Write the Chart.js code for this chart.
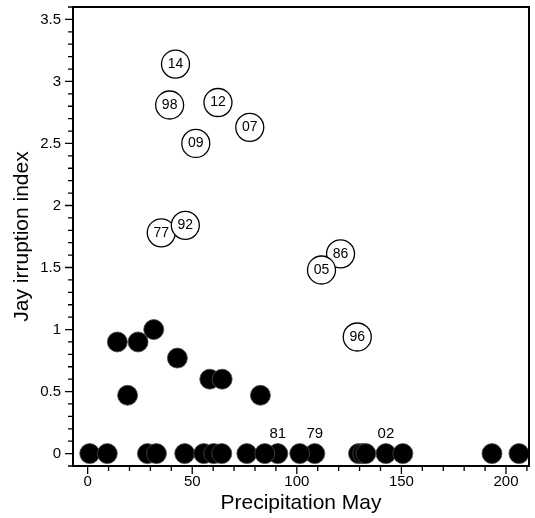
<!DOCTYPE html>
<html>
<head>
<meta charset="utf-8">
<script src="https://cdn.jsdelivr.net/npm/chart.js@4.4.1/dist/chart.umd.min.js"></script>
<style>
    html, body { margin: 0; padding: 0; background: #fff; }
    #wrap { width: 535px; height: 518px; }
</style>
</head>
<body>
<div id="wrap"><canvas id="chart" width="535" height="518"></canvas></div>
<script>
// Irruption years (open circles, labelled with the year)
const yearLabels = ['14', '98', '12', '07', '09', '77', '92', '86', '05', '96'];
const yearPrecip = [42, 39.2, 62.3, 77.5, 51.7, 35.2, 46.7, 120.9, 111.8, 128.9];
const yearIndex = [3.14, 2.81, 2.83, 2.63, 2.5, 1.78, 1.84, 1.61, 1.48, 0.94];

// Other years (filled circles)
const otherPrecip = [14.2, 19.1, 24.1, 31.6, 42.9, 58.4, 64.3, 82.6,
    1, 9.4, 28.6, 32.9, 46.4, 55.5, 60.3, 64.1, 76.1, 84.7, 101.4,
    129.5, 131.5, 133, 150.7, 193.3, 206.2];
const otherIndex = [0.9, 0.47, 0.9, 1.0, 0.77, 0.6, 0.6, 0.47,
    0, 0, 0, 0, 0, 0, 0, 0, 0, 0, 0,
    0, 0, 0, 0, 0, 0];

// Zero years that carry a year label above the point
const taggedLabels = ['81', '79', '02'];
const taggedPrecip = [90.9, 108.6, 142.6];
const taggedIndex = [0, 0, 0];

// Axis ranges and ticks
const xMin = -7, xMax = 211, xStep = 10, xMajor = 50;
const yMin = -0.1, yMax = 3.6, yStep = 0.1, yMajor = 0.5;

const FONT = "'Liberation Sans', Arial, Helvetica, sans-serif";

const toPoints = (xs, ys) => xs.map((x, i) => ({ x: x, y: ys[i] }));
const isMajor = (v, m) => Math.abs(v / m - Math.round(v / m)) < 1e-6;

// year labels: inside the open circles, above the tagged zero points
const yearText = {
    id: 'yearText',
    afterDatasetsDraw(chart) {
        const ctx = chart.ctx;
        ctx.save();
        ctx.fillStyle = '#000';
        ctx.textAlign = 'center';
        ctx.textBaseline = 'middle';
        chart.data.datasets.forEach((ds, i) => {
            if (!ds.yearLabels) {
                return;
            }
            ctx.font = ds.labelSize + 'px ' + FONT;
            chart.getDatasetMeta(i).data.forEach((el, j) => {
                ctx.fillText(ds.yearLabels[j], el.x, el.y + ds.labelOffset);
            });
        });
        ctx.restore();
    }
};

// box frame and outward tick marks (longer on the labelled ones)
const frame = {
    id: 'frame',
    afterDatasetsDraw(chart) {
        const { ctx, chartArea: a, scales: { x, y } } = chart;
        ctx.save();
        ctx.strokeStyle = '#000';
        ctx.lineWidth = 1.3;
        ctx.beginPath();
        x.ticks.forEach((t) => {
            const px = x.getPixelForValue(t.value);
            ctx.moveTo(px, a.bottom);
            ctx.lineTo(px, a.bottom + (isMajor(t.value, xMajor) ? 8 : 5));
        });
        y.ticks.forEach((t) => {
            const py = y.getPixelForValue(t.value);
            ctx.moveTo(a.left, py);
            ctx.lineTo(a.left - (isMajor(t.value, yMajor) ? 8 : 5), py);
        });
        ctx.stroke();
        ctx.lineWidth = 2;
        ctx.strokeRect(a.left, a.top, a.right - a.left, a.bottom - a.top);
        ctx.restore();
    }
};

new Chart(document.getElementById('chart'), {
    type: 'scatter',
    data: {
        datasets: [
            {
                data: toPoints(otherPrecip, otherIndex),
                pointRadius: 10,
                backgroundColor: '#000',
                borderColor: '#4a4a4a',
                borderWidth: 0.8
            },
            {
                data: toPoints(taggedPrecip, taggedIndex),
                yearLabels: taggedLabels,
                labelOffset: -20,
                labelSize: 15,
                pointRadius: 10,
                backgroundColor: '#000',
                borderColor: '#4a4a4a',
                borderWidth: 0.8
            },
            {
                data: toPoints(yearPrecip, yearIndex),
                yearLabels: yearLabels,
                labelOffset: 0,
                labelSize: 14,
                pointRadius: 14,
                backgroundColor: '#fff',
                borderColor: '#000',
                borderWidth: 1.3
            }
        ]
    },
    options: {
        responsive: false,
        animation: false,
        layout: {
            autoPadding: false,
            padding: { top: 7, right: 6, left: 0, bottom: 0 }
        },
        plugins: {
            legend: { display: false },
            tooltip: { enabled: false }
        },
        scales: {
            x: {
                type: 'linear',
                min: xMin,
                max: xMax,
                afterFit: (scale) => {
                    scale.height = 52;
                    scale.paddingLeft = 0;
                    scale.paddingRight = 0;
                },
                grid: { display: false, drawTicks: false },
                border: { display: false },
                ticks: {
                    stepSize: xStep,
                    includeBounds: false,
                    autoSkip: false,
                    maxRotation: 0,
                    padding: 7,
                    color: '#000',
                    font: { family: FONT, size: 15 },
                    callback: (v) => (isMajor(v, xMajor) ? String(v) : '')
                },
                title: {
                    display: true,
                    text: 'Precipitation May',
                    color: '#000',
                    font: { family: FONT, size: 21 },
                    padding: { top: 0, bottom: 2 }
                }
            },
            y: {
                type: 'linear',
                min: yMin,
                max: yMax,
                afterFit: (scale) => {
                    scale.width = 73;
                    scale.paddingTop = 0;
                    scale.paddingBottom = 0;
                },
                grid: { display: false, drawTicks: false },
                border: { display: false },
                ticks: {
                    stepSize: yStep,
                    includeBounds: false,
                    autoSkip: false,
                    padding: 12,
                    color: '#000',
                    font: { family: FONT, size: 15 },
                    callback: (v) => (isMajor(v, yMajor) && v >= 0 ? String(+v.toFixed(1)) : '')
                },
                title: {
                    display: true,
                    text: 'Jay irruption index',
                    color: '#000',
                    font: { family: FONT, size: 21 },
                    padding: { top: 10, bottom: 0 }
                }
            }
        }
    },
    plugins: [yearText, frame]
});
</script>
</body>
</html>
